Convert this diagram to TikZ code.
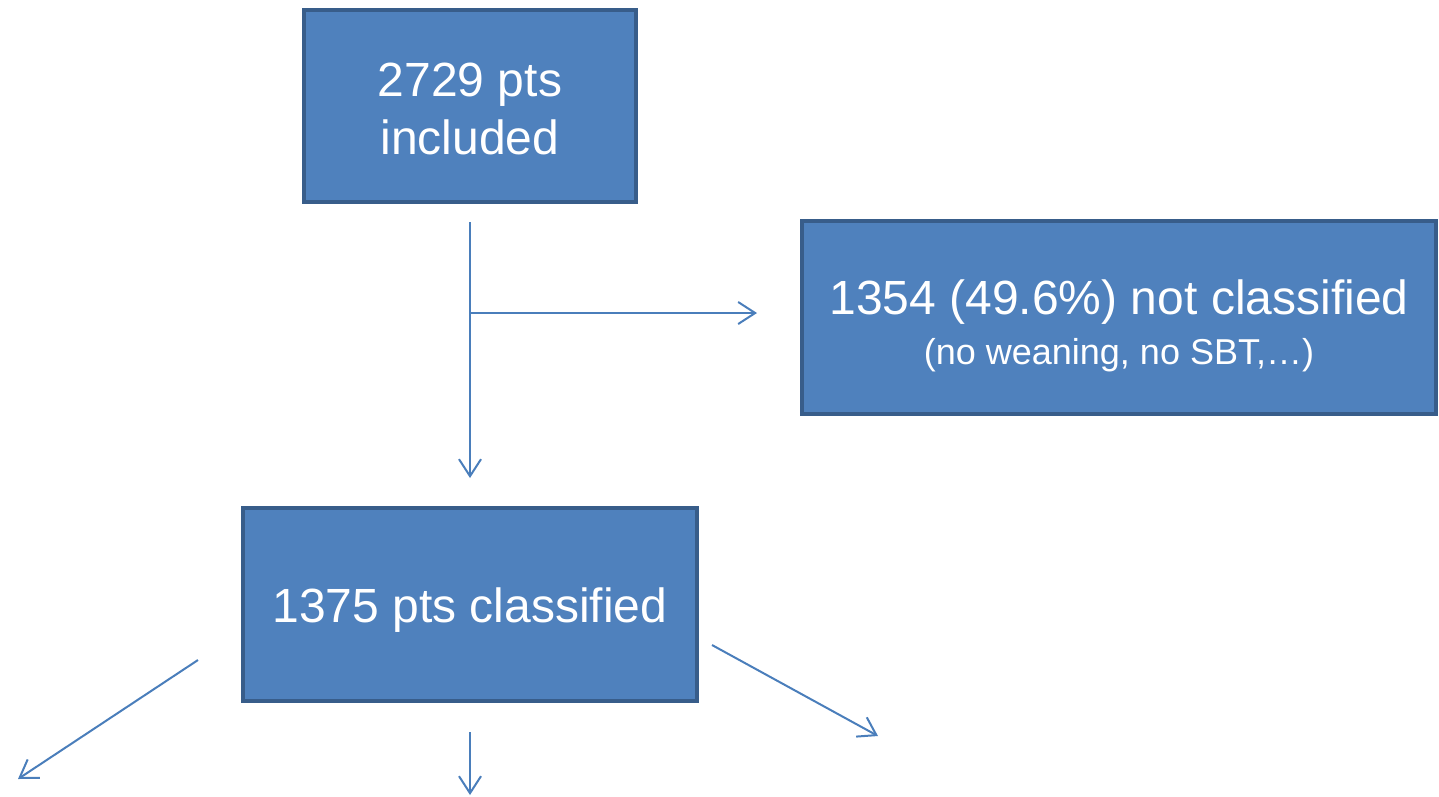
\documentclass[tikz,border=0pt]{standalone}
\usepackage{fontspec}
\setmainfont{Liberation Sans}
\usetikzlibrary{arrows.meta}
\definecolor{boxfill}{HTML}{4F81BD}
\definecolor{boxline}{HTML}{385D8A}
\definecolor{arrcol}{HTML}{4A7EBB}
\tikzset{
  flowbox/.style={draw=boxline, fill=boxfill, line width=4pt, inner sep=0pt},
  boxtext/.style={text=white, align=center, inner sep=0pt, font=\fontsize{48}{58}\selectfont},
  arr/.style={draw=arrcol, line width=2pt, -{Straight Barb[length=17pt,width=22pt]}}
}
\begin{document}
\begin{tikzpicture}[x=1pt,y=-1pt]
\useasboundingbox (0,0) rectangle (1439,796);
\node[flowbox, minimum width=332pt, minimum height=192pt] (b1) at (470,106) {};
\node[boxtext] (t1) at ([yshift=-3pt]b1.center) {2729 pts\\included};
\node[flowbox, minimum width=634pt, minimum height=193pt] (b2) at (1119,317.5) {};
\node[boxtext] (t2) at ([yshift=-8pt]b2.center)
  {{\fontsize{48}{47}\selectfont 1354 (49.6\%) not classified}\\[-8pt]{\fontsize{36}{43}\selectfont (no weaning, no SBT,\textellipsis)}};
\node[flowbox, minimum width=454pt, minimum height=193pt] (b3) at (470,604.5) {};
\node[boxtext] (t3) at ([yshift=-6pt]b3.center) {1375 pts classified};
\coordinate (j) at (470,313);
\coordinate (l1) at (198,660);
\coordinate (l2) at (18,779);
\coordinate (m1) at (470,732);
\coordinate (m2) at (470,795);
\coordinate (r1) at (712,645);
\coordinate (r2) at (878,736);
\draw[arr] ([yshift=-18pt]b1.south) -- ([yshift=28pt]b3.north);
\draw[arr] (j) -- ([xshift=-43pt]b2.west |- j);
\draw[arr] (l1) -- (l2);
\draw[arr] (m1) -- (m2);
\draw[arr] (r1) -- (r2);
\end{tikzpicture}
\end{document}
